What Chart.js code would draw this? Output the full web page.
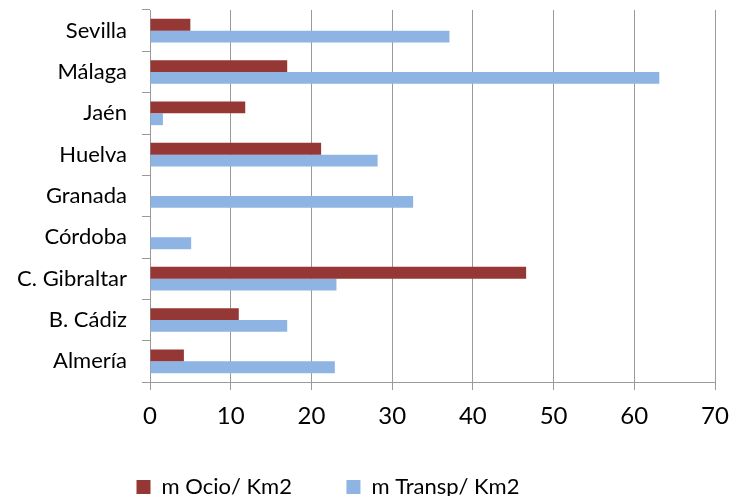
<!DOCTYPE html>
<html><head><meta charset="utf-8">
<script src="https://cdn.jsdelivr.net/npm/chart.js@4"></script>
<style>html,body{margin:0;padding:0;background:#fff}#wrap{width:729px;height:496px}</style>
</head><body><div id="wrap"><canvas id="c" width="729" height="496"></canvas></div>
<script>
const categories = ['Sevilla','Málaga','Jaén','Huelva','Granada','Córdoba','C. Gibraltar','B. Cádiz','Almería'];
const ocioValues = [5.0, 17.0, 11.8, 21.2, 0, 0, 46.6, 11.0, 4.2];
const transpValues = [37.1, 63.1, 1.6, 28.2, 32.6, 5.1, 23.1, 17.0, 22.9];
const seriesNames = ['m Ocio/ Km2', 'm Transp/ Km2'];
const xTickValues = [0, 10, 20, 30, 40, 50, 60, 70];

const GRID = '#9a9a9a';
Chart.defaults.font.family = 'Lato';
Chart.defaults.color = '#000';

const legendPlacer = {
  id: 'legendPlacer',
  afterLayout(chart) {
    const lg = chart.legend;
    if (lg) { lg.left = 82; lg.top = 421.5; }
  }
};

new Chart(document.getElementById('c'), {
  type: 'bar',
  data: {
    labels: categories,
    datasets: [
      { label: seriesNames[0], data: ocioValues, backgroundColor: '#953735', borderWidth: 0 },
      { label: seriesNames[1], data: transpValues, backgroundColor: '#8EB4E3', borderWidth: 0 }
    ]
  },
  plugins: [legendPlacer],
  options: {
    indexAxis: 'y',
    responsive: false,
    animation: false,
    devicePixelRatio: 1,
    categoryPercentage: 0.571,
    barPercentage: 1.0,
    layout: { padding: { left: 0, right: 14, top: 10, bottom: 0 } },
    plugins: {
      tooltip: { enabled: false },
      legend: {
        position: 'bottom',
        align: 'start',
        maxHeight: 54,
        labels: { boxWidth: 14, boxHeight: 14, padding: 54.5, font: { size: 22 }, color: '#000' }
      }
    },
    scales: {
      x: {
        min: 0, max: 70,
        afterBuildTicks: (s) => { s.ticks = xTickValues.map(v => ({ value: v })); },
        afterFit: (s) => { s.height = 60; s.paddingLeft = 0; s.paddingRight = 14; },
        grid: { color: GRID, lineWidth: 1, tickLength: 8, drawTicks: true },
        border: { color: GRID, width: 1 },
        ticks: { font: { size: 24 }, padding: 12, color: '#000', maxRotation: 0 }
      },
      y: {
        afterFit: (s) => { s.width = 150; s.paddingTop = 0; s.paddingBottom = 0; },
        grid: { offset: true, drawOnChartArea: false, color: GRID, tickLength: 8 },
        border: { color: GRID, width: 1 },
        ticks: { font: { size: 22 }, padding: 15, color: '#000' }
      }
    }
  }
});
</script></body></html>
